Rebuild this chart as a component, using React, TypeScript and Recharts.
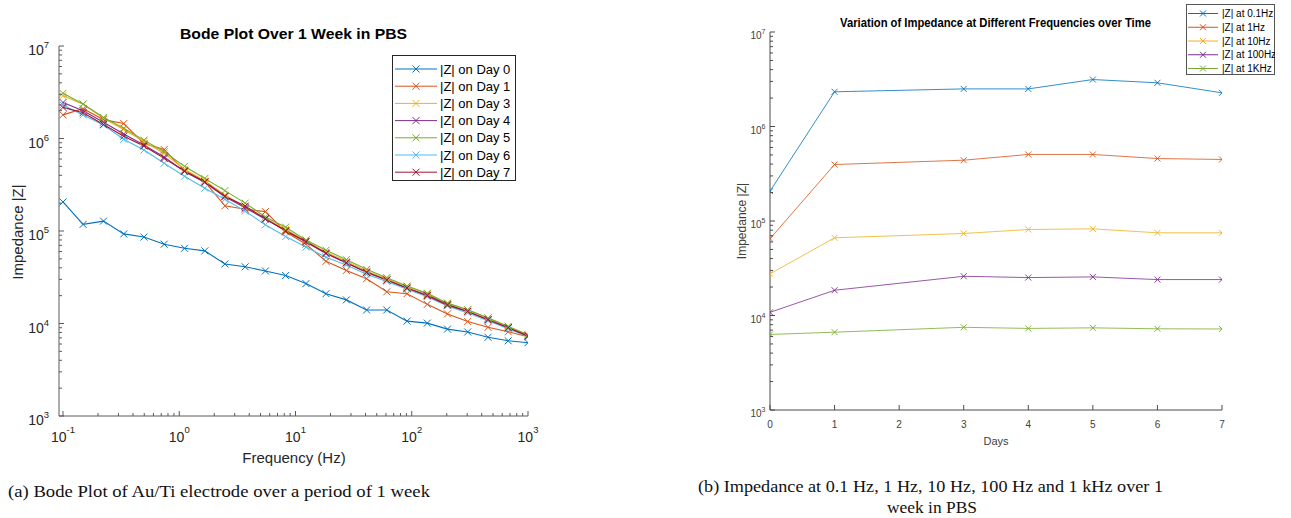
import React from 'react';
import { LineChart, Line, XAxis, YAxis, Legend } from 'recharts';

// ---- (a) Bode plot: |Z| vs frequency, one series per day ----
const freqHz = [0.1, 0.149, 0.223, 0.333, 0.497, 0.742, 1.11, 1.66, 2.47, 3.69, 5.51, 8.23, 12.3, 18.3, 27.4, 40.9, 61.0, 91.1, 136, 203, 303, 453, 676, 1000];

const zDay0 = [206000, 118000, 128000, 93000, 86000, 72000, 65000, 61000, 44000, 41000, 37000, 33000, 27000, 21000, 18000, 14000, 14000, 10600, 10100, 8700, 8100, 7100, 6500, 6200];
const zDay1 = [1800000, 2100000, 1600000, 1450000, 880000, 760000, 450000, 340000, 187000, 172000, 162000, 98000, 72000, 47000, 37500, 30500, 22000, 21000, 16100, 12700, 10500, 9100, 8150, 7200];
const zDay3 = [2900000, 2350000, 1650000, 1250000, 930000, 690000, 465000, 350000, 245000, 182000, 137000, 104000, 78000, 59000, 47000, 37000, 30500, 25000, 21000, 16500, 14000, 11400, 9300, 7600];
const zDay4 = [2450000, 2000000, 1500000, 1120000, 850000, 630000, 440000, 335000, 235000, 178000, 134000, 101000, 76000, 57000, 45000, 36000, 29500, 24000, 20300, 16000, 13500, 11000, 9000, 7400];
const zDay5 = [3080000, 2360000, 1690000, 1290000, 960000, 720000, 500000, 370000, 273000, 200000, 142000, 110000, 80000, 62000, 49000, 38500, 31300, 25400, 21200, 16600, 14100, 11500, 9300, 7500];
const zDay6 = [2300000, 1800000, 1400000, 980000, 750000, 540000, 390000, 290000, 220000, 164000, 117000, 87000, 67000, 52000, 43000, 34000, 28500, 23500, 19500, 15500, 13000, 10700, 8800, 7200];
const zDay7 = [2170000, 1900000, 1420000, 1060000, 830000, 610000, 445000, 340000, 238000, 186000, 136000, 100000, 77000, 57500, 45400, 35500, 29500, 24200, 20000, 15800, 13500, 11000, 9000, 7300];

// ---- (b) |Z| at fixed frequencies vs day ----
const days = [0, 1, 3, 4, 5, 6, 7];
const zAt01Hz = [207000, 2330000, 2500000, 2500000, 3140000, 2900000, 2270000];
const zAt1Hz = [65000, 396000, 440000, 506000, 506000, 458000, 448000];
const zAt10Hz = [27600, 66400, 73800, 81300, 82600, 75000, 75000];
const zAt100Hz = [10800, 18500, 26000, 25200, 25600, 24000, 24000];
const zAt1kHz = [6300, 6660, 7500, 7300, 7400, 7230, 7200];

const dayTicks = [0, 1, 2, 3, 4, 5, 6, 7];

const C = ['#0072BD', '#D95319', '#EDB120', '#7E2F8E', '#77AC30', '#4DBEEE', '#A2142F'];

const bodeSeries = [
  { key: 'd0', name: '|Z| on Day 0', color: C[0], values: zDay0 },
  { key: 'd1', name: '|Z| on Day 1', color: C[1], values: zDay1 },
  { key: 'd3', name: '|Z| on Day 3', color: C[2], values: zDay3 },
  { key: 'd4', name: '|Z| on Day 4', color: C[3], values: zDay4 },
  { key: 'd5', name: '|Z| on Day 5', color: C[4], values: zDay5 },
  { key: 'd6', name: '|Z| on Day 6', color: C[5], values: zDay6 },
  { key: 'd7', name: '|Z| on Day 7', color: C[6], values: zDay7 },
];

const timeSeries = [
  { key: 'f01', name: '|Z| at 0.1Hz', color: C[0], values: zAt01Hz },
  { key: 'f1', name: '|Z| at 1Hz', color: C[1], values: zAt1Hz },
  { key: 'f10', name: '|Z| at 10Hz', color: C[2], values: zAt10Hz },
  { key: 'f100', name: '|Z| at 100Hz', color: C[3], values: zAt100Hz },
  { key: 'f1k', name: '|Z| at 1KHz', color: C[4], values: zAt1kHz },
];

const bodeData = freqHz.map((f, i) => {
  const row: any = { f };
  bodeSeries.forEach((s) => (row[s.key] = s.values[i]));
  return row;
});

const timeData = days.map((d, i) => {
  const row: any = { day: d };
  timeSeries.forEach((s) => (row[s.key] = s.values[i]));
  return row;
});

// log ticks: decades plus 2..9 minor ticks
const logTicks = (from: number, to: number) => {
  const out: number[] = [];
  for (let e = from; e < to; e++) {
    for (let m = 1; m < 10; m++) out.push(m * Math.pow(10, e));
  }
  out.push(Math.pow(10, to));
  return out;
};

const FONT = '"Liberation Sans", Arial, Helvetica, sans-serif';
const SERIF = '"Liberation Serif", "Times New Roman", serif';

const isDecade = (v: number) => Math.abs(Math.log10(v) - Math.round(Math.log10(v))) < 1e-6;

type TickOpts = {
  side: 'left' | 'bottom' | 'top' | 'right';
  log: boolean;
  labels: boolean;
  major: number;
  minor: number;
  stroke: string;
  fontSize?: number;
  supSize?: number;
  supDy?: number;
  dx?: number;
  dy?: number;
  color?: string;
};

const makeTick = (o: TickOpts) => (props: any) => {
  const { x, y, payload, index } = props;
  const v = payload.value;
  const major = !o.log || isDecade(v);
  const len = major ? o.major : o.minor;
  let l = [x, y, x, y];
  if (o.side === 'bottom') l = [x, y, x, y - len];
  if (o.side === 'top') l = [x, y, x, y + len];
  if (o.side === 'left') l = [x, y, x + len, y];
  if (o.side === 'right') l = [x, y, x - len, y];
  let label: React.ReactNode = null;
  if (o.labels && major) {
    const lx = o.side === 'left' ? x - (o.dx || 0) : x;
    const ly = y + (o.dy || 0);
    const anchor = o.side === 'left' ? 'end' : 'middle';
    label = (
      <text x={lx} y={ly} textAnchor={anchor} fontSize={o.fontSize} fill={o.color} fontFamily={FONT}>
        {o.log ? (
          <>
            <tspan>10</tspan>
            <tspan dy={o.supDy} fontSize={o.supSize}>{Math.round(Math.log10(v))}</tspan>
          </>
        ) : (
          v
        )}
      </text>
    );
  }
  return (
    <g key={`t-${index}`}>
      <line x1={l[0]} y1={l[1]} x2={l[2]} y2={l[3]} stroke={o.stroke} strokeWidth={1} />
      {label}
    </g>
  );
};

const crossDot = (size: number, width: number) => (props: any) => {
  const { cx, cy, stroke, index } = props;
  if (cx == null || cy == null) return <g key={`d-${index}`} />;
  return (
    <path
      key={`d-${index}`}
      d={`M${cx - size},${cy - size}L${cx + size},${cy + size}M${cx - size},${cy + size}L${cx + size},${cy - size}`}
      stroke={stroke}
      strokeWidth={width}
      fill="none"
    />
  );
};

type LegendBoxProps = {
  series: { name: string; color: string }[];
  w: number;
  h: number;
  first: number;
  step: number;
  lineX: [number, number];
  textX: number;
  fontSize: number;
  border: string;
  mark: number;
};

const LegendBox = (p: LegendBoxProps) => (
  <svg width={p.w} height={p.h} style={{ display: 'block' }}>
    <rect x={0.5} y={0.5} width={p.w - 1} height={p.h - 1} fill="#fff" stroke={p.border} strokeWidth={1} />
    {p.series.map((s, i) => {
      const cy = p.first + i * p.step;
      const mx = (p.lineX[0] + p.lineX[1]) / 2;
      return (
        <g key={s.name}>
          <line x1={p.lineX[0]} x2={p.lineX[1]} y1={cy} y2={cy} stroke={s.color} strokeWidth={1} />
          <path
            d={`M${mx - p.mark},${cy - p.mark}L${mx + p.mark},${cy + p.mark}M${mx - p.mark},${cy + p.mark}L${mx + p.mark},${cy - p.mark}`}
            stroke={s.color}
            strokeWidth={1}
          />
          <text x={p.textX} y={cy + p.fontSize * 0.36} fontSize={p.fontSize} fontFamily={FONT} fill="#000">
            {s.name}
          </text>
        </g>
      );
    })}
  </svg>
);

const AX_A = '#5a5a5a';
const AX_B = '#4a4a4a';

const BodeChart = () => (
  <LineChart width={560} height={470} data={bodeData} margin={{ top: 46, right: 32, bottom: 0, left: 0 }}>
    <XAxis
      dataKey="f"
      type="number"
      scale="log"
      domain={[0.0924, 1000]}
      allowDataOverflow
      ticks={logTicks(-1, 3)}
      interval={0}
      height={54}
      tickSize={0}
      tickMargin={0}
      tickLine={false}
      axisLine={{ stroke: AX_A }}
      tick={makeTick({ side: 'bottom', log: true, labels: true, major: 5, minor: 3, stroke: AX_A, fontSize: 14, supSize: 9.5, supDy: -8.5, dy: 25.5, color: '#262626' })}
    />
    <XAxis
      xAxisId="top"
      orientation="top"
      type="number"
      scale="log"
      domain={[0.0924, 1000]}
      allowDataOverflow
      ticks={logTicks(-1, 3)}
      interval={0}
      height={0}
      tickSize={0}
      tickMargin={0}
      tickLine={false}
      axisLine={{ stroke: AX_A }}
      tick={makeTick({ side: 'top', log: true, labels: false, major: 5, minor: 3, stroke: AX_A })}
    />
    <YAxis
      type="number"
      scale="log"
      domain={[1000, 10000000]}
      allowDataOverflow
      ticks={logTicks(3, 7)}
      interval={0}
      width={59}
      tickSize={0}
      tickMargin={0}
      tickLine={false}
      axisLine={{ stroke: AX_A }}
      tick={makeTick({ side: 'left', log: true, labels: true, major: 5, minor: 3, stroke: AX_A, fontSize: 14, supSize: 9.5, supDy: -7, dx: 10, dy: 9, color: '#262626' })}
    />
    <YAxis
      yAxisId="right"
      orientation="right"
      type="number"
      scale="log"
      domain={[1000, 10000000]}
      allowDataOverflow
      ticks={logTicks(3, 7)}
      interval={0}
      width={0}
      tickSize={0}
      tickMargin={0}
      tickLine={false}
      axisLine={{ stroke: AX_A }}
      tick={makeTick({ side: 'right', log: true, labels: false, major: 5, minor: 3, stroke: AX_A })}
    />
    {bodeSeries.map((s) => (
      <Line
        key={s.key}
        dataKey={s.key}
        name={s.name}
        type="linear"
        stroke={s.color}
        strokeWidth={1.1}
        dot={crossDot(3.5, 1)}
        activeDot={false}
        isAnimationActive={false}
      />
    ))}
    <Legend
      layout="vertical"
      align="center"
      verticalAlign="middle"
      wrapperStyle={{ left: 392, top: 55, width: 124, height: 126 }}
      content={() => (
        <LegendBox series={bodeSeries} w={124} h={126} first={14} step={17.2} lineX={[3, 45]} textX={48} fontSize={13} border="#262626" mark={3.5} />
      )}
    />
  </LineChart>
);

const TimeChart = () => (
  <LineChart width={600} height={450} data={timeData} margin={{ top: 32, right: 68, bottom: 0, left: 0 }}>
    <XAxis
      dataKey="day"
      type="number"
      domain={[0, 7]}
      allowDataOverflow
      ticks={dayTicks}
      interval={0}
      height={40}
      tickSize={0}
      tickMargin={0}
      tickLine={false}
      axisLine={{ stroke: AX_B }}
      tick={makeTick({ side: 'bottom', log: false, labels: true, major: 5, minor: 3, stroke: AX_B, fontSize: 10, dy: 18, color: '#404040' })}
    />
    <XAxis
      xAxisId="top"
      orientation="top"
      type="number"
      domain={[0, 7]}
      allowDataOverflow
      ticks={dayTicks}
      interval={0}
      height={0}
      tickSize={0}
      tickMargin={0}
      tickLine={false}
      axisLine={{ stroke: AX_B }}
      tick={makeTick({ side: 'top', log: false, labels: false, major: 5, minor: 3, stroke: AX_B })}
    />
    <YAxis
      type="number"
      scale="log"
      domain={[1000, 10000000]}
      allowDataOverflow
      ticks={logTicks(3, 7)}
      interval={0}
      width={80}
      tickSize={0}
      tickMargin={0}
      tickLine={false}
      axisLine={{ stroke: AX_B }}
      tick={makeTick({ side: 'left', log: true, labels: true, major: 5, minor: 3, stroke: AX_B, fontSize: 10, supSize: 7, supDy: -5, dx: 4.5, dy: 7, color: '#404040' })}
    />
    <YAxis
      yAxisId="right"
      orientation="right"
      type="number"
      scale="log"
      domain={[1000, 10000000]}
      allowDataOverflow
      ticks={logTicks(3, 7)}
      interval={0}
      width={0}
      tickSize={0}
      tickMargin={0}
      tickLine={false}
      axisLine={{ stroke: AX_B }}
      tick={makeTick({ side: 'right', log: true, labels: false, major: 5, minor: 3, stroke: AX_B })}
    />
    {timeSeries.map((s) => (
      <Line
        key={s.key}
        dataKey={s.key}
        name={s.name}
        type="linear"
        stroke={s.color}
        strokeOpacity={0.8}
        strokeWidth={1}
        dot={crossDot(3, 0.9)}
        activeDot={false}
        isAnimationActive={false}
      />
    ))}
    <Legend
      layout="vertical"
      align="center"
      verticalAlign="middle"
      wrapperStyle={{ left: 496, top: 4, width: 89, height: 71 }}
      content={() => (
        <LegendBox series={timeSeries} w={89} h={71} first={9.5} step={13.75} lineX={[2, 32]} textX={36} fontSize={10} border="#555" mark={3} />
      )}
    />
  </LineChart>
);

export default function App() {
  return (
    <div style={{ position: 'absolute', left: 0, top: 0, width: 1291, height: 518, background: '#fff', overflow: 'hidden' }}>
      <div style={{ position: 'absolute', left: 0, top: 0 }}>
        <BodeChart />
      </div>
      <div style={{ position: 'absolute', left: 690, top: 0 }}>
        <TimeChart />
      </div>
      <svg width={1291} height={518} style={{ position: 'absolute', left: 0, top: 0, pointerEvents: 'none' }}>
        {/* (a) titles */}
        <text x={293.5} y={39} textAnchor="middle" fontFamily={FONT} fontWeight="bold" fontSize={15} fill="#000" textLength={227} lengthAdjust="spacingAndGlyphs">
          Bode Plot Over 1 Week in PBS
        </text>
        <text x={294} y={463} textAnchor="middle" fontFamily={FONT} fontSize={15} fill="#262626">
          Frequency (Hz)
        </text>
        <text transform="translate(23,232) rotate(-90)" textAnchor="middle" fontFamily={FONT} fontSize={15} fill="#262626">
          Impedance |Z|
        </text>
        {/* (b) titles */}
        <text x={995.5} y={27} textAnchor="middle" fontFamily={FONT} fontWeight="bold" fontSize={12} fill="#000" textLength={311} lengthAdjust="spacingAndGlyphs">
          Variation of Impedance at Different Frequencies over Time
        </text>
        <text x={996} y={445} textAnchor="middle" fontFamily={FONT} fontSize={11} fill="#404040">
          Days
        </text>
        <text transform="translate(745.5,221) rotate(-90)" textAnchor="middle" fontFamily={FONT} fontSize={12} fill="#404040">
          Impedance |Z|
        </text>
        {/* captions */}
        <text x={8} y={497} fontFamily={SERIF} fontSize={16.5} fill="#111" textLength={422} lengthAdjust="spacingAndGlyphs">
          (a) Bode Plot of Au/Ti electrode over a period of 1 week
        </text>
        <text x={698} y={492} fontFamily={SERIF} fontSize={16.5} fill="#111" textLength={465} lengthAdjust="spacingAndGlyphs">
          (b) Impedance at 0.1 Hz, 1 Hz, 10 Hz, 100 Hz and 1 kHz over 1
        </text>
        <text x={932} y={512.5} textAnchor="middle" fontFamily={SERIF} fontSize={16.5} fill="#111" textLength={90} lengthAdjust="spacingAndGlyphs">
          week in PBS
        </text>
      </svg>
    </div>
  );
}
